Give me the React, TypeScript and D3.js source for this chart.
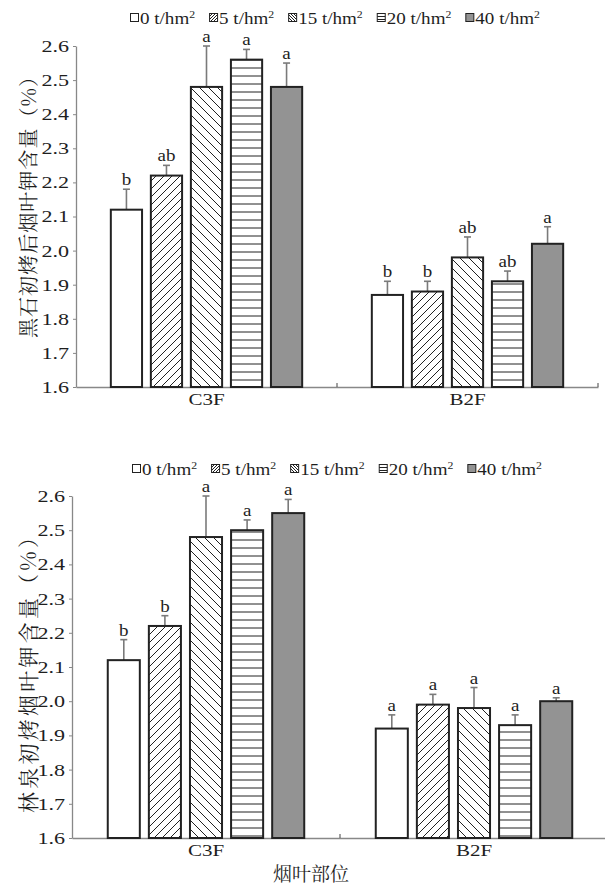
import { useEffect, useRef } from 'react';
import * as d3 from 'd3';

const categories = ['C3F', 'B2F'];
const rates = ['0', '5', '15', '20', '40'];
const yTickLabels = ['1.6', '1.7', '1.8', '1.9', '2.0', '2.1', '2.2', '2.3', '2.4', '2.5', '2.6'];

// 黑石
const topValues = [
  [2.12, 2.22, 2.48, 2.56, 2.48],
  [1.87, 1.88, 1.98, 1.91, 2.02],
];
const topErrors = [
  [0.06, 0.03, 0.12, 0.03, 0.07],
  [0.04, 0.03, 0.06, 0.03, 0.05],
];
const topLetters = [
  ['b', 'ab', 'a', 'a', 'a'],
  ['b', 'b', 'ab', 'ab', 'a'],
];

// 林泉
const bottomValues = [
  [2.12, 2.22, 2.48, 2.50, 2.55],
  [1.92, 1.99, 1.98, 1.93, 2.00],
];
const bottomErrors = [
  [0.06, 0.03, 0.12, 0.03, 0.04],
  [0.04, 0.03, 0.06, 0.03, 0.01],
];
const bottomLetters = [
  ['b', 'b', 'a', 'a', 'a'],
  ['a', 'a', 'a', 'a', 'a'],
];

const serif = "'Liberation Serif', 'Times New Roman', 'DejaVu Serif', serif";
const cjk = "'Noto Serif CJK SC', 'Noto Sans CJK SC', serif";
const axisColor = '#888';
const textColor = '#1e1e1e';
const barFills = ['#fff', 'url(#hFwd)', 'url(#hBack)', 'url(#hHoriz)', '#939393'];
const iconFills = ['#fff', 'url(#iFwd)', 'url(#iBack)', 'url(#iHoriz)', '#939393'];

// the printed text is a little wider than Liberation Serif at the same height
const widen = (sel, k) => {
  sel.each(function () {
    const n = this as SVGTextElement;
    const w = n.getComputedTextLength();
    d3.select(n).attr('textLength', w * k).attr('lengthAdjust', 'spacingAndGlyphs');
  });
};

function addPatterns(defs) {
  const mk = (id, size, d) => {
    const p = defs.append('pattern')
      .attr('id', id)
      .attr('patternUnits', 'userSpaceOnUse')
      .attr('width', size)
      .attr('height', size);
    p.append('rect').attr('width', size).attr('height', size).attr('fill', '#fff');
    p.append('path').attr('d', d).attr('stroke', '#222').attr('stroke-width', 1).attr('fill', 'none');
  };
  const s = 8;
  mk('hFwd', s, `M0,${s} L${s},0 M-2,2 L2,-2 M${s - 2},${s + 2} L${s + 2},${s - 2}`);
  mk('hBack', 9, `M0,0 L9,9 M-2,7 L2,11 M7,-2 L11,2`);
  mk('hHoriz', s, `M0,${s / 2} L${s},${s / 2}`);
  const t = 3;
  mk('iFwd', t, `M0,${t} L${t},0 M-1,1 L1,-1 M${t - 1},${t + 1} L${t + 1},${t - 1}`);
  mk('iBack', t, `M0,0 L${t},${t} M-1,${t - 1} L1,${t + 1} M${t - 1},-1 L${t + 1},1`);
  mk('iHoriz', t, `M0,${t / 2} L${t},${t / 2}`);
}

function drawPanel(svg, o) {
  const g = svg.append('g');
  const y = d3.scaleLinear().domain([1.6, 2.6]).range([o.bottom, o.top]);
  const x0 = d3.scaleBand().domain(categories).range([o.left, o.right]);
  const x1 = d3.scaleBand().domain(rates).range([0, x0.bandwidth()]).paddingInner(0.22).paddingOuter(0.87);

  // y axis
  const ya = g.append('g')
    .attr('transform', `translate(${o.left},0)`)
    .call(d3.axisLeft(y).tickValues(yTickLabels.map(Number)).tickFormat((d, i) => yTickLabels[i]).tickSize(3).tickSizeOuter(0).tickPadding(4));
  ya.select('.domain').attr('stroke', axisColor).attr('stroke-width', 1.3);
  ya.selectAll('.tick line').attr('stroke', axisColor);
  ya.selectAll('.tick text').attr('font-family', serif).attr('font-size', 17).attr('fill', textColor);
  widen(ya.selectAll('.tick text'), 1.3);

  // x axis
  const xa = g.append('g')
    .attr('transform', `translate(0,${o.bottom})`)
    .call(d3.axisBottom(x0).tickSize(0).tickSizeOuter(0).tickPadding(6));
  xa.select('.domain').attr('stroke', axisColor).attr('stroke-width', 1.3);
  xa.selectAll('.tick text').attr('font-family', serif).attr('font-size', 17.5).attr('fill', textColor);
  widen(xa.selectAll('.tick text'), 1.2);
  xa.selectAll('.sep')
    .data(categories)
    .join('line')
    .attr('x1', (d) => x0(d) + x0.bandwidth())
    .attr('x2', (d) => x0(d) + x0.bandwidth())
    .attr('y1', 0)
    .attr('y2', -4)
    .attr('stroke', '#444');

  // bars
  categories.forEach((c, ci) => {
    const grp = g.append('g').attr('transform', `translate(${x0(c)},0)`);
    rates.forEach((r, ri) => {
      const v = o.values[ci][ri];
      const e = o.errors[ci][ri];
      const bx = x1(r);
      const cx = bx + x1.bandwidth() / 2;
      grp.append('line')
        .attr('x1', cx).attr('x2', cx)
        .attr('y1', y(v)).attr('y2', y(v + e))
        .attr('stroke', '#7a7a7a').attr('stroke-width', 1.6);
      grp.append('line')
        .attr('x1', cx - 3.5).attr('x2', cx + 3.5)
        .attr('y1', y(v + e)).attr('y2', y(v + e))
        .attr('stroke', '#7a7a7a').attr('stroke-width', 1.6);
      grp.append('rect')
        .attr('x', bx)
        .attr('y', y(v))
        .attr('width', x1.bandwidth())
        .attr('height', y(1.6) - y(v))
        .attr('fill', barFills[ri])
        .attr('stroke', '#222')
        .attr('stroke-width', 2);
      const lt = grp.append('text')
        .attr('x', cx)
        .attr('y', y(v + e) - 4)
        .attr('text-anchor', 'middle')
        .attr('font-family', serif)
        .attr('font-size', 16.5)
        .attr('fill', textColor)
        .text(o.letters[ci][ri]);
      widen(lt, 1.15);
    });
  });

  // legend
  const lg = g.append('g').attr('transform', `translate(${o.legendX},${o.legendY})`);
  let lx = 0;
  rates.forEach((r, ri) => {
    lg.append('rect')
      .attr('x', lx + 0.5)
      .attr('y', -10.5)
      .attr('width', 8)
      .attr('height', 8)
      .attr('fill', iconFills[ri])
      .attr('stroke', '#222')
      .attr('stroke-width', 1);
    const tx = lg.append('text')
      .attr('x', lx + 10)
      .attr('y', 0)
      .attr('font-family', serif)
      .attr('font-size', 17)
      .attr('fill', textColor);
    tx.append('tspan').text(`${r} t/hm`);
    tx.append('tspan').attr('font-size', 10.5).attr('dy', -6.5).text('2');
    const w = (tx.node() as SVGTextElement).getComputedTextLength() * 1.12;
    widen(tx, 1.12);
    lx += 10 + w + 14;
  });

  // y label
  g.append('text')
    .attr('transform', `translate(${o.labelX},${(o.labelTop + o.labelBottom) / 2}) rotate(-90)`)
    .attr('text-anchor', 'middle')
    .attr('font-family', cjk)
    .attr('font-size', o.labelSize)
    .attr('fill', textColor)
    .attr('textLength', o.labelBottom - o.labelTop)
    .attr('lengthAdjust', 'spacing')
    .text(o.yLabel);
}

export default function App() {
  const ref = useRef<SVGSVGElement>(null);

  useEffect(() => {
    const svg = d3.select(ref.current);
    svg.selectAll('*').remove();
    addPatterns(svg.append('defs'));

    drawPanel(svg, {
      top: 46, bottom: 387, left: 76, right: 598,
      legendX: 130, legendY: 24,
      values: topValues, errors: topErrors, letters: topLetters,
      yLabel: '黑石初烤后烟叶钾含量（%）', labelX: 36, labelTop: 67, labelBottom: 338, labelSize: 20,
    });
    drawPanel(svg, {
      top: 496, bottom: 838, left: 72, right: 608,
      legendX: 132, legendY: 475,
      values: bottomValues, errors: bottomErrors, letters: bottomLetters,
      yLabel: '林泉初烤烟叶钾含量（%）', labelX: 36, labelTop: 527, labelBottom: 813, labelSize: 21,
    });

    svg.append('text')
      .attr('x', 311)
      .attr('y', 881)
      .attr('text-anchor', 'middle')
      .attr('font-family', cjk)
      .attr('font-size', 19)
      .attr('fill', textColor)
      .text('烟叶部位');
  }, []);

  return (
    <svg
      ref={ref}
      width={605}
      height={888}
      style={{ position: 'absolute', left: 0, top: 0, background: '#fff' }}
    />
  );
}
